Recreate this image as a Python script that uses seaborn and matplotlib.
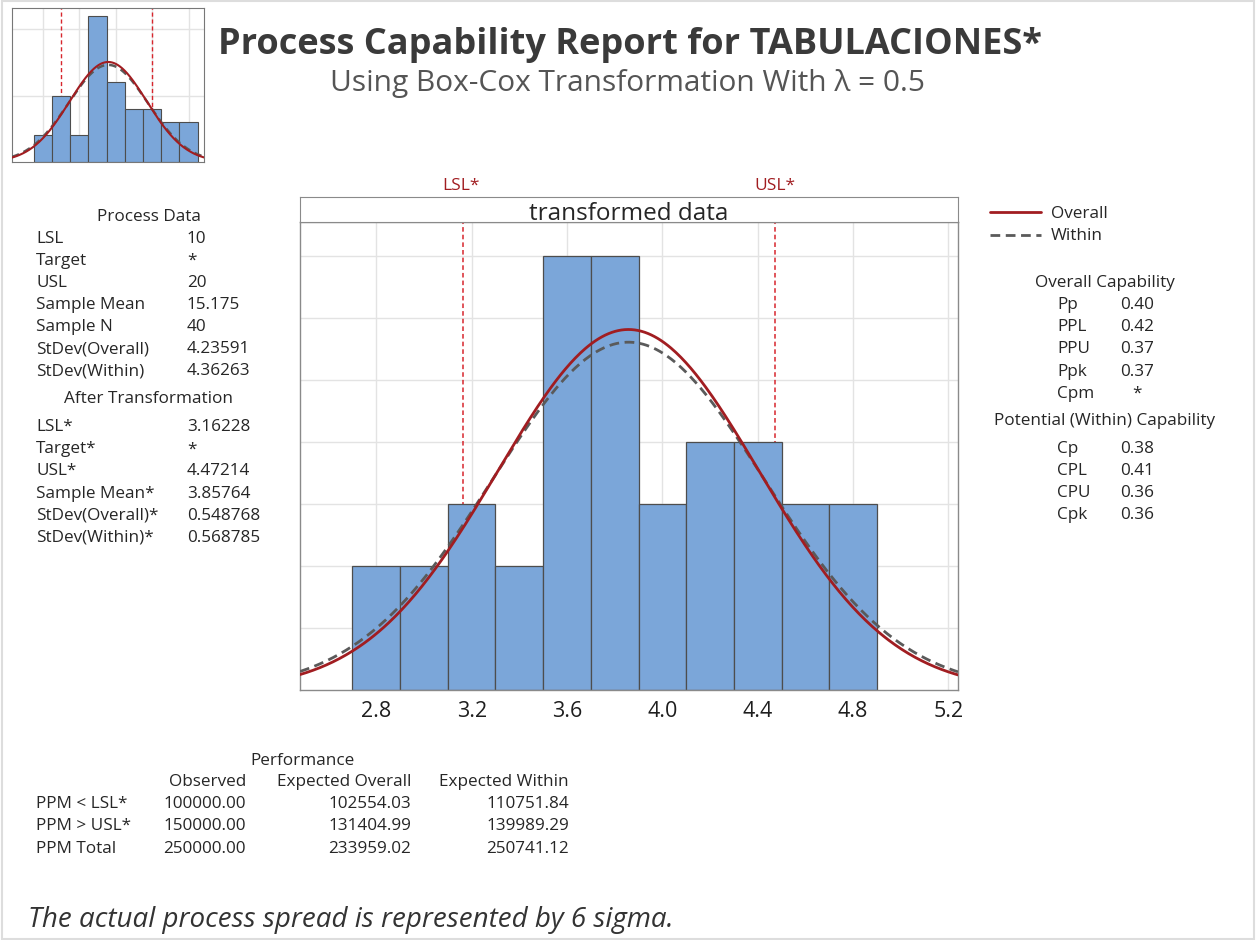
import numpy as np
import pandas as pd
import seaborn as sns
import matplotlib.pyplot as plt
from matplotlib.patches import Rectangle

# ---- data ----
# transformed (sqrt) histogram
t_edges = [2.7, 2.9, 3.1, 3.3, 3.5, 3.7, 3.9, 4.1, 4.3, 4.5, 4.7, 4.9]
t_counts = [2, 2, 3, 2, 7, 7, 3, 4, 4, 3, 3]
t_lsl, t_usl = 3.16228, 4.47214
t_mean, t_sd_overall, t_sd_within = 3.85764, 0.548768, 0.568785

# original data histogram (small inset)
o_edges = [7, 9, 11, 13, 15, 17, 19, 21, 23, 25]
o_counts = [2, 5, 2, 11, 6, 4, 4, 3, 3]
o_lsl, o_usl = 10, 20
o_mean, o_sd_overall, o_sd_within = 15.175, 4.23591, 4.36263
n_total = 40

process_labels = ["LSL", "Target", "USL", "Sample Mean", "Sample N", "StDev(Overall)", "StDev(Within)"]
process_values = ["10", "*", "20", "15.175", "40", "4.23591", "4.36263"]
trans_labels = ["LSL*", "Target*", "USL*", "Sample Mean*", "StDev(Overall)*", "StDev(Within)*"]
trans_values = ["3.16228", "*", "4.47214", "3.85764", "0.548768", "0.568785"]

overall_cap_labels = ["Pp", "PPL", "PPU", "Ppk", "Cpm"]
overall_cap_values = ["0.40", "0.42", "0.37", "0.37", "*"]
within_cap_labels = ["Cp", "CPL", "CPU", "Cpk"]
within_cap_values = ["0.38", "0.41", "0.36", "0.36"]

perf_rows = ["PPM < LSL*", "PPM > USL*", "PPM Total"]
perf_cols = ["Observed", "Expected Overall", "Expected Within"]
perf_observed = ["100000.00", "150000.00", "250000.00"]
perf_exp_overall = ["102554.03", "131404.99", "233959.02"]
perf_exp_within = ["110751.84", "139989.29", "250741.12"]

# ---- style ----
sns.set_style("white")
plt.rcParams['font.family'] = ['Open Sans', 'DejaVu Sans']

BAR = "#7BA6D9"
EDGE = "#4D4D4D"
RED = "#A11D21"
SPEC = "#D7262D"
GRAY = "#5A5A5A"
TXT = "#262626"
GRID = "#E3E3E3"
FS = 12.3

W, H = 1257, 940
fig = plt.figure(figsize=(12.57, 9.4), dpi=100)


def fx(x):
    return x / W


def fy(y):
    return 1 - y / H


def put(x, y, s, **kw):
    kw.setdefault("color", TXT)
    kw.setdefault("va", "center")
    kw.setdefault("fontsize", FS)
    fig.text(fx(x), fy(y), s, **kw)


def normal_curve(mean, sd, lo, hi, scale):
    xs = np.linspace(lo, hi, 400)
    ys = scale * np.exp(-0.5 * ((xs - mean) / sd) ** 2) / (sd * np.sqrt(2 * np.pi))
    return pd.DataFrame({"x": xs, "y": ys})


# light frame round the whole report
fig.patches.append(Rectangle((fx(2), fy(939)), fx(1254) - fx(2), fy(1) - fy(939),
                             transform=fig.transFigure, fill=False, edgecolor="#DDDDDD", lw=1.5))

# ---- main histogram ----
ax = fig.add_axes([fx(300), fy(690), fx(958) - fx(300), fy(222) - fy(690)])
xlo, xhi = 2.48, 5.24
tdf = pd.DataFrame({"mid": np.array(t_edges[:-1]) + 0.1, "n": t_counts})
ax.axvline(t_lsl, color=SPEC, ls=(0, (3, 2)), lw=1.1, zorder=1)
ax.axvline(t_usl, color=SPEC, ls=(0, (3, 2)), lw=1.1, zorder=1)
sns.histplot(data=tdf, x="mid", weights="n", bins=t_edges, color=BAR, alpha=1,
             edgecolor=EDGE, linewidth=0.9, ax=ax, zorder=2)
bw = t_edges[1] - t_edges[0]
c_over = normal_curve(t_mean, t_sd_overall, xlo, xhi, n_total * bw)
c_with = normal_curve(t_mean, t_sd_within, xlo, xhi, n_total * bw)
sns.lineplot(data=c_over, x="x", y="y", color=RED, lw=2, ax=ax, zorder=4, label="Overall")
sns.lineplot(data=c_with, x="x", y="y", color=GRAY, lw=2, ax=ax, zorder=3, label="Within",
             dashes=False, linestyle=(0, (3.5, 2)))
ax.set_xlim(xlo, xhi)
ax.set_ylim(0, 7.55)
ax.set_xticks([2.8, 3.2, 3.6, 4.0, 4.4, 4.8, 5.2])
ax.set_xticklabels(["2.8", "3.2", "3.6", "4.0", "4.4", "4.8", "5.2"])
ax.set_xticks(np.arange(2.6, 5.25, 0.4), minor=True)
ax.set_yticks(range(1, 8))
ax.set_yticklabels([])
ax.grid(True, color=GRID, lw=1, zorder=0)
ax.set_axisbelow(True)
ax.tick_params(axis="x", which="both", direction="out", length=4, color="#888888",
               labelsize=15.5, labelcolor="#1E1E1E", pad=4)
ax.tick_params(axis="y", length=0)
ax.set_xlabel("")
ax.set_ylabel("")
for s in ax.spines.values():
    s.set_color("#8A8A8A")
    s.set_linewidth(1)
ax.legend(loc="upper left", bbox_to_anchor=(fx(990), fy(206)), bbox_transform=fig.transFigure,
          frameon=False, fontsize=FS, handlelength=3.0, handletextpad=0.55, labelspacing=0.38,
          labelcolor=TXT, borderaxespad=0, borderpad=0)

# strip above main panel
sax = fig.add_axes([fx(300), fy(222), fx(958) - fx(300), fy(197) - fy(222)])
sax.set_xticks([])
sax.set_yticks([])
for s in sax.spines.values():
    s.set_color("#8A8A8A")
sax.text(0.5, 0.33, "transformed data", ha="center", va="center", fontsize=17.5, color=TXT,
         fontweight="medium", transform=sax.transAxes)
put(461, 186, "LSL*", ha="center", color=RED, fontsize=12.5, fontweight="medium")
put(775, 186, "USL*", ha="center", color=RED, fontsize=12.5, fontweight="medium")

# ---- inset: original data ----
iax = fig.add_axes([fx(12), fy(162), fx(204) - fx(12), fy(8) - fy(162)])
odf = pd.DataFrame({"mid": np.array(o_edges[:-1]) + 1, "n": o_counts})
iax.axvline(o_lsl, color=SPEC, ls=(0, (3, 2)), lw=1, zorder=1)
iax.axvline(o_usl, color=SPEC, ls=(0, (3, 2)), lw=1, zorder=1)
sns.histplot(data=odf, x="mid", weights="n", bins=o_edges, color=BAR, alpha=1,
             edgecolor=EDGE, linewidth=0.8, ax=iax, zorder=2)
ilo, ihi = 4.6, 25.7
obw = o_edges[1] - o_edges[0]
sns.lineplot(data=normal_curve(o_mean, o_sd_within, ilo, ihi, n_total * obw), x="x", y="y",
             color=GRAY, lw=1.8, ax=iax, zorder=3, linestyle=(0, (3, 2)))
sns.lineplot(data=normal_curve(o_mean, o_sd_overall, ilo, ihi, n_total * obw), x="x", y="y",
             color=RED, lw=1.5, ax=iax, zorder=4)
iax.set_xlim(ilo, ihi)
iax.set_ylim(0, 11.6)
iax.set_xticks([8, 12, 16, 20, 24])
iax.set_yticks([5, 10])
iax.set_xticklabels([])
iax.set_yticklabels([])
iax.tick_params(length=0)
iax.grid(True, color=GRID, lw=1, zorder=0)
iax.set_axisbelow(True)
iax.set_xlabel("")
iax.set_ylabel("")
for s in iax.spines.values():
    s.set_color("#777777")

# ---- titles ----
put(630, 45, "Process Capability Report for TABULACIONES*", ha="center", fontsize=26,
    fontweight="bold", color="#3A3A3A")
put(628, 83, "Using Box-Cox Transformation With λ = 0.5", ha="center", fontsize=21.5,
    color="#555555")

# ---- process data ----
put(149, 217, "Process Data", ha="center")
for i, (lab, val) in enumerate(zip(process_labels, process_values)):
    put(36, 239 + i * 22, lab)
    put(187, 239 + i * 22, val)
put(149, 399, "After Transformation", ha="center")
for i, (lab, val) in enumerate(zip(trans_labels, trans_values)):
    put(36, 427 + i * 22.2, lab)
    put(187, 427 + i * 22.2, val)

# ---- capability ----
put(1105, 283, "Overall Capability", ha="center")
for i, (lab, val) in enumerate(zip(overall_cap_labels, overall_cap_values)):
    put(1057, 305 + i * 22.2, lab)
    put(1137, 305 + i * 22.2, val, ha="center")
put(1105, 421, "Potential (Within) Capability", ha="center")
for i, (lab, val) in enumerate(zip(within_cap_labels, within_cap_values)):
    put(1057, 449 + i * 22, lab)
    put(1137, 449 + i * 22, val, ha="center")

# ---- performance ----
put(303, 761, "Performance", ha="center")
col_x = [246, 411, 569]
for cx, head in zip(col_x, perf_cols):
    put(cx, 782, head, ha="right")
for i, lab in enumerate(perf_rows):
    y = 804 + i * 22.5
    put(36, y, lab)
    for cx, vals in zip(col_x, [perf_observed, perf_exp_overall, perf_exp_within]):
        put(cx, y, vals[i], ha="right")

put(28, 920, "The actual process spread is represented by 6 sigma.", fontsize=20,
    style="italic", color="#333333")

fig.savefig("out.png", dpi=100, facecolor="white")
